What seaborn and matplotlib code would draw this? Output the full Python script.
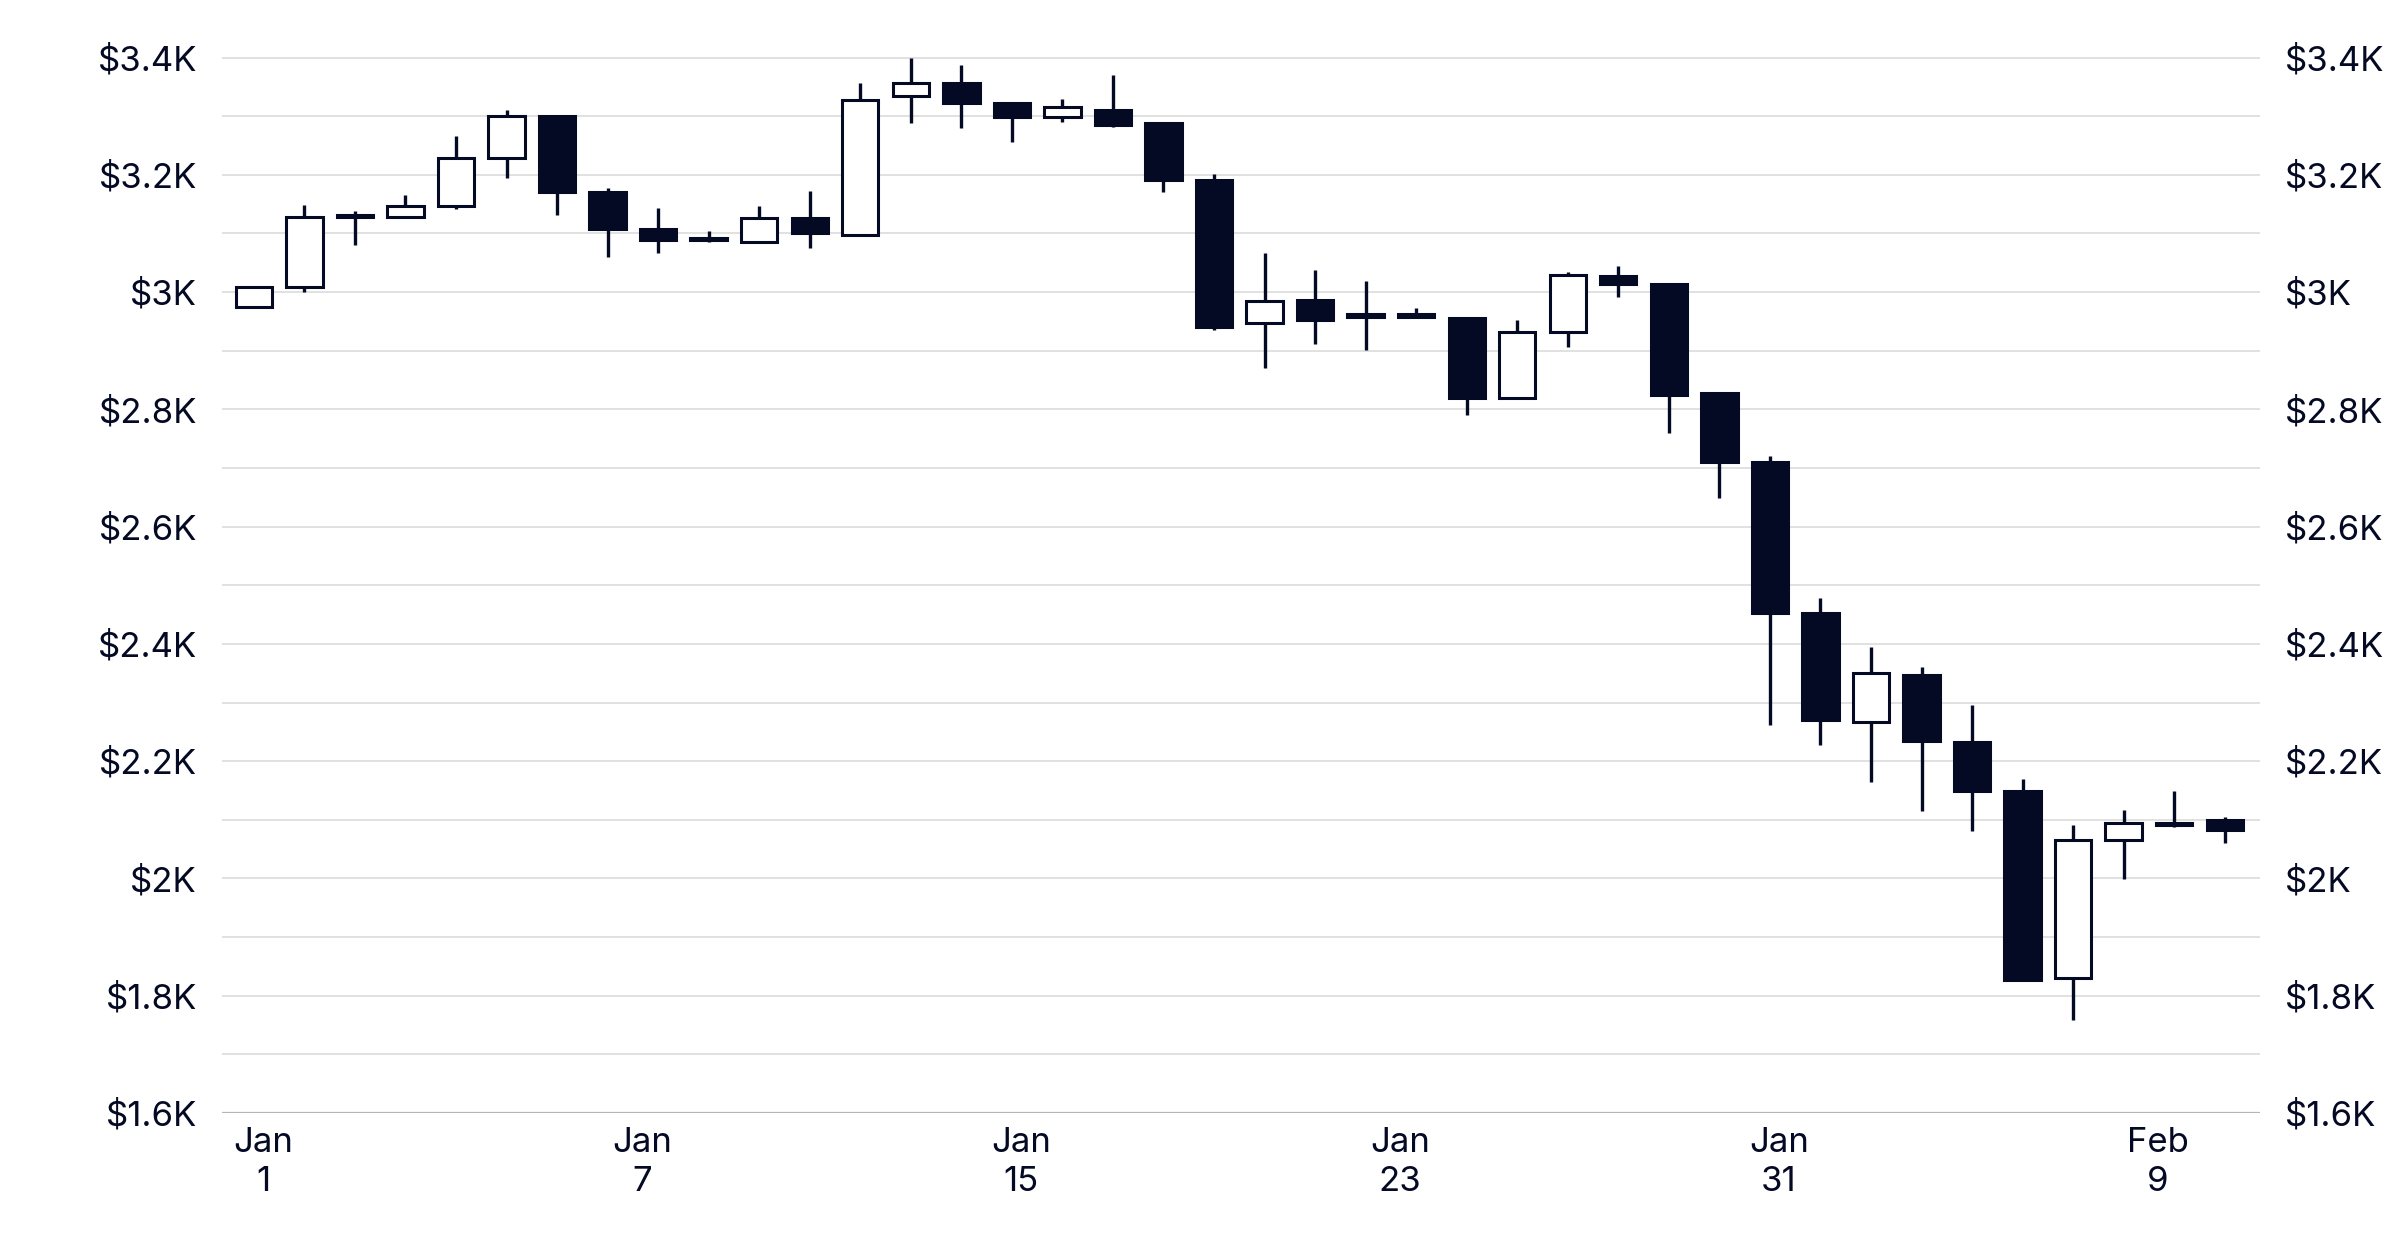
import matplotlib
matplotlib.use("Agg")
import matplotlib.pyplot as plt
import seaborn as sns
import pandas as pd
import numpy as np

opens  = [2974,3008,3128,3128,3146,3228,3301,3170,3107,3089,3086,3126,3097,3335,3356,3322,3298,3311,3288,3191,
          2948,2987,2961,2962,2956,2820,2932,3027,3013,2828,2710,2452,2266,2347,2232,2149,1830,2065,2091,2099]
closes = [3008,3128,3131,3146,3228,3301,3170,3107,3089,3091,3126,3100,3327,3356,3322,3298,3316,3285,3191,2940,
          2985,2953,2958,2958,2820,2932,3029,3013,2825,2710,2452,2271,2350,2235,2149,1827,2065,2094,2093,2083]
highs  = [3010,3149,3139,3165,3267,3311,3301,3178,3144,3105,3147,3173,3356,3400,3387,3322,3329,3371,3288,3201,
          3066,3037,3019,2972,2956,2953,3034,3045,3013,2828,2721,2478,2394,2360,2295,2170,2091,2117,2149,2104]
lows   = [2972,3000,3081,3126,3141,3194,3131,3060,3066,3085,3084,3076,3097,3288,3280,3256,3290,3282,3170,2935,
          2870,2911,2901,2955,2791,2818,2906,2992,2760,2648,2261,2227,2164,2115,2081,1827,1759,1999,2088,2060]
tick_pos = [0.18, 7.68, 15.18, 22.68, 30.18, 37.68]
tick_labels = ["Jan\n1", "Jan\n7", "Jan\n15", "Jan\n23", "Jan\n31", "Feb\n9"]
y_ticks = [1600,1800,2000,2200,2400,2600,2800,3000,3200,3400]
y_labels = ["$1.6K","$1.8K","$2K","$2.2K","$2.4K","$2.6K","$2.8K","$3K","$3.2K","$3.4K"]

df = pd.DataFrame({"i": np.arange(len(opens)), "open": opens, "close": closes, "high": highs, "low": lows})
df["up"] = df["close"] >= df["open"]

sns.set_theme(style="white")
plt.rcParams['font.family'] = ['Inter', 'DejaVu Sans']
navy = "#050a24"

fig = plt.figure(figsize=(24, 12.38), dpi=100)
ax = fig.add_axes([0.0925, 0.101, 0.849, 0.862])

for v in range(1600, 3500, 100):
    ax.axhline(v, color="#dedede", lw=1.3, zorder=0)
ax.axhline(1600, color="#b5b5b5", lw=1.6, zorder=1)

ax.vlines(df["i"], df["low"], df["high"], color=navy, lw=2.4, zorder=2)
bot = np.minimum(df["open"], df["close"])
hgt = np.maximum(np.abs(df["close"] - df["open"]), 4)
cols = [("white" if u else navy) for u in df["up"]]
ax.bar(df["i"], hgt, bottom=bot, width=0.72, color=cols, edgecolor=navy, linewidth=2.2, zorder=3)

ax.set_xlim(-0.63, 39.69)
ax.set_ylim(1600, 3420)
ax.set_xticks(tick_pos)
ax.set_xticklabels(tick_labels, fontsize=25, color=navy, linespacing=1.3)
ax.set_yticks(y_ticks)
ax.set_yticklabels(y_labels, fontsize=25, color=navy)
ax.tick_params(axis="y", length=0, pad=18, labelright=True, labelleft=True)
ax.tick_params(axis="x", length=0, pad=10)
for s in ax.spines.values():
    s.set_visible(False)
ax.set_xlabel(""); ax.set_ylabel("")

fig.savefig("out.png", dpi=100, facecolor="white")
